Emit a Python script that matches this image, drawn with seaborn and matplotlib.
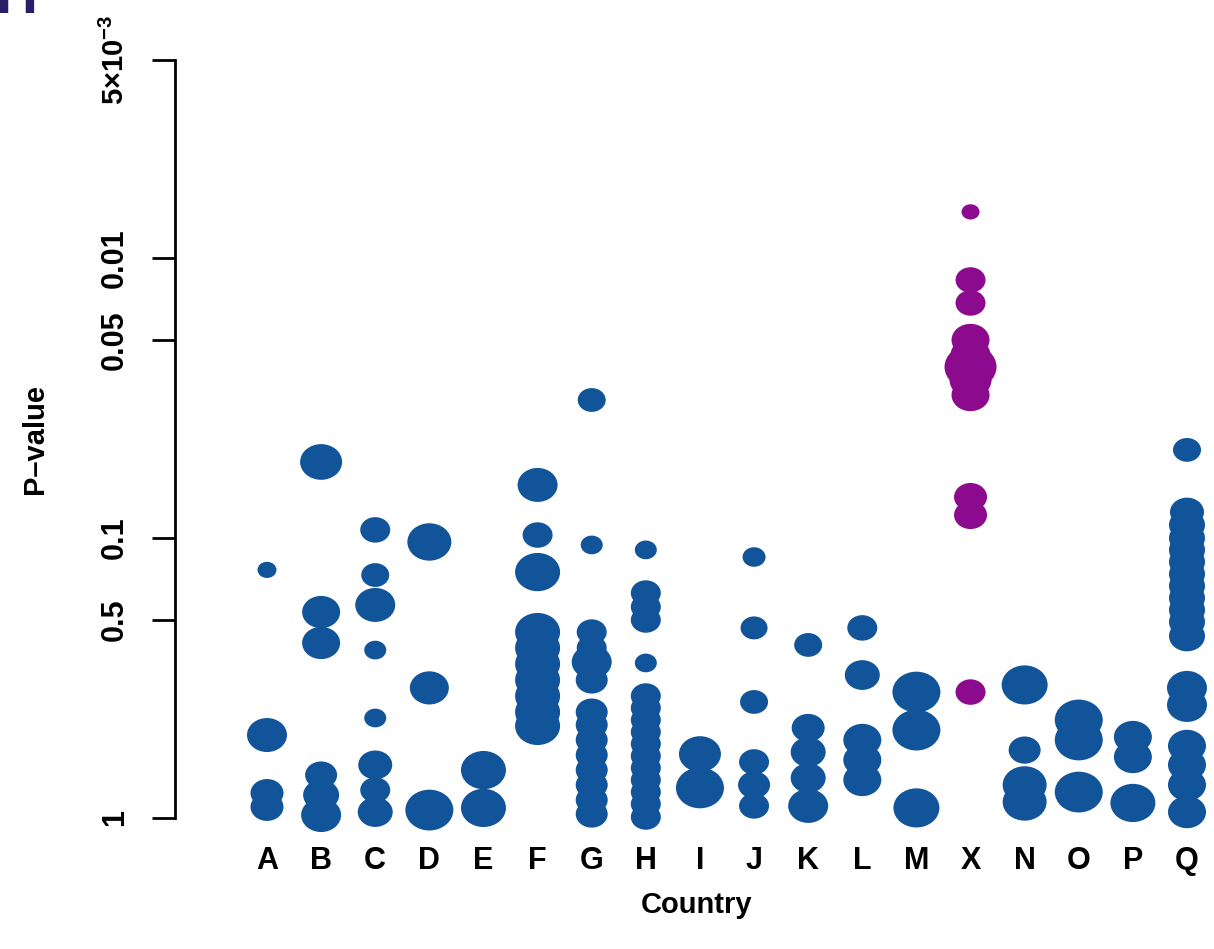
import numpy as np
import pandas as pd
import matplotlib
matplotlib.use("Agg")
import matplotlib.pyplot as plt
import seaborn as sns
from matplotlib.path import Path
from matplotlib.transforms import Affine2D
from matplotlib.markers import MarkerStyle

countries = ["A", "B", "C", "D", "E", "F", "G", "H", "I",
             "J", "K", "L", "M", "X", "N", "O", "P", "Q"]
highlight = "X"

# Score on the (stretched) -log p axis and point weight, one pair per country
A_score = [1.253, 0.419, 0.126, 0.056]
A_weight = [19, 40, 33, 33]
B_score = [1.798, 1.040, 0.884, 0.217, 0.116, 0.015]
B_weight = [42, 38, 38, 32, 36, 40]
C_score = [1.455, 1.227, 1.076, 0.848, 0.505, 0.268, 0.141, 0.030]
C_weight = [30, 28, 40, 22, 22, 34, 30, 35]
D_score = [1.394, 0.657, 0.040]
D_weight = [44, 39, 48]
E_score = [0.242, 0.051]
E_weight = [45, 45]
F_score = [1.682, 1.429, 1.242, 0.939, 0.859, 0.778, 0.697, 0.616, 0.535, 0.465]
F_weight = [40, 30, 45, 45, 45, 45, 45, 45, 45, 45]
G_score = [2.111, 1.379, 0.939, 0.859, 0.788, 0.697, 0.535, 0.470, 0.394,
           0.318, 0.242, 0.167, 0.091, 0.020]
G_weight = [28, 22, 30, 30, 40, 32, 32, 32, 32, 32, 32, 32, 32, 32]
H_score = [1.354, 1.136, 1.066, 1.000, 0.783, 0.616, 0.556, 0.495, 0.434,
           0.374, 0.313, 0.253, 0.192, 0.131, 0.071, 0.005]
H_weight = [22, 30, 30, 30, 22, 30, 30, 30, 30, 30, 30, 30, 30, 30, 30, 30]
I_score = [0.323, 0.152]
I_weight = [42, 48]
J_score = [1.318, 0.960, 0.586, 0.283, 0.167, 0.061]
J_weight = [23, 27, 28, 30, 32, 30]
K_score = [0.874, 0.455, 0.333, 0.202, 0.061]
K_weight = [28, 33, 35, 35, 40]
L_score = [0.960, 0.722, 0.394, 0.293, 0.192]
L_weight = [30, 35, 38, 38, 38]
M_score = [0.636, 0.444, 0.051]
M_weight = [48, 48, 46]
X_score = [3.061, 2.717, 2.601, 2.414, 2.338, 2.278, 2.212, 2.136, 1.621, 1.530, 0.636]
X_weight = [18, 30, 30, 38, 40, 52, 42, 38, 33, 33, 30]
N_score = [0.672, 0.343, 0.167, 0.081]
N_weight = [46, 32, 44, 44]
O_score = [0.495, 0.394, 0.131]
O_weight = [48, 48, 48]
P_score = [0.409, 0.308, 0.076]
P_weight = [38, 38, 45]
Q_score = [1.859, 1.545, 1.480, 1.414, 1.354, 1.293, 1.232, 1.172, 1.111, 1.051,
           0.990, 0.919, 0.657, 0.571, 0.364, 0.268, 0.167, 0.030]
Q_weight = [28, 34, 36, 36, 36, 36, 36, 36, 36, 36, 36, 36, 40, 40, 38, 38, 38, 38]

tick_pos = [0, 1, 1.414, 2.414, 2.828, 3.828]
tick_labels = ["1", "0.5", "0.1", "0.05", "0.01", r"$\mathbf{5{\times}10^{-3}}$"]

series = {
    "A": (A_score, A_weight), "B": (B_score, B_weight), "C": (C_score, C_weight),
    "D": (D_score, D_weight), "E": (E_score, E_weight), "F": (F_score, F_weight),
    "G": (G_score, G_weight), "H": (H_score, H_weight), "I": (I_score, I_weight),
    "J": (J_score, J_weight), "K": (K_score, K_weight), "L": (L_score, L_weight),
    "M": (M_score, M_weight), "X": (X_score, X_weight), "N": (N_score, N_weight),
    "O": (O_score, O_weight), "P": (P_score, P_weight), "Q": (Q_score, Q_weight),
}

rows = []
for i, c in enumerate(countries):
    sc, wt = series[c]
    for s, w in zip(sc, wt):
        rows.append({"country": c, "pos": i, "score": s, "weight": w,
                     "group": "highlight" if c == highlight else "other"})
df = pd.DataFrame(rows)

sns.set_style("white")
plt.rcParams["font.family"] = ["Liberation Sans", "DejaVu Sans"]
plt.rcParams["font.weight"] = "bold"
plt.rcParams["text.color"] = "black"
plt.rcParams["xtick.color"] = "black"
plt.rcParams["ytick.color"] = "black"
plt.rcParams["xtick.labelcolor"] = "black"
plt.rcParams["ytick.labelcolor"] = "black"
plt.rcParams["mathtext.fontset"] = "custom"
plt.rcParams["mathtext.rm"] = "Liberation Sans:bold"
plt.rcParams["mathtext.bf"] = "Liberation Sans:bold"

BLUE = "#11549a"
PURPLE = "#8b0a8e"

W, H = 1214, 949
fig = plt.figure(figsize=(W / 100, H / 100), dpi=100)
ax = fig.add_axes([175 / W, (H - 818) / H, (W - 175) / W, 758 / H])

# slightly wide oval marker
oval = Path.unit_circle().transformed(Affine2D().scale(1.0, 0.85))
marker = MarkerStyle(oval)

size_map = {w: (0.72 * w) ** 2 for w in sorted(df["weight"].unique())}
sns.scatterplot(data=df, x="pos", y="score", hue="group",
                palette={"other": BLUE, "highlight": PURPLE},
                size="weight", sizes=size_map, marker=marker,
                linewidth=0, edgecolor="none", legend=False,
                clip_on=False, ax=ax)

ax.set_xlim(-1.700, 17.499)
ax.set_ylim(0, 3.828)
for side in ["top", "right", "bottom"]:
    ax.spines[side].set_visible(False)
ax.spines["left"].set_color("black")
ax.spines["left"].set_linewidth(2.0)

ax.set_xticks(range(len(countries)))
ax.set_xticklabels(countries, fontsize=22, fontweight="bold")
ax.tick_params(axis="x", length=0, pad=20)

ax.set_yticks(tick_pos)
ax.set_yticklabels(tick_labels, rotation=90, va="center", fontsize=22, fontweight="bold")
ax.get_yticklabels()[-1].set_fontsize(21)
ax.tick_params(axis="y", length=16.5, width=2.0, color="black", pad=16, left=True)

ax.set_xlabel("")
ax.set_ylabel("")
fig.text(697 / W, 1 - 905 / H, "Country", ha="center", va="center",
         fontsize=21, fontweight="bold")
fig.text(35 / W, 1 - 439 / H, "P\u2013value", ha="center", va="center",
         rotation=90, fontsize=21, fontweight="bold")

# panel letter, mostly above the top edge
fig.text(-5 / W, 1 - 13 / H, "H", ha="left", va="baseline",
         fontsize=42, fontweight="bold", color="#2a1f66")

fig.savefig("out.png", dpi=100, facecolor="white")
